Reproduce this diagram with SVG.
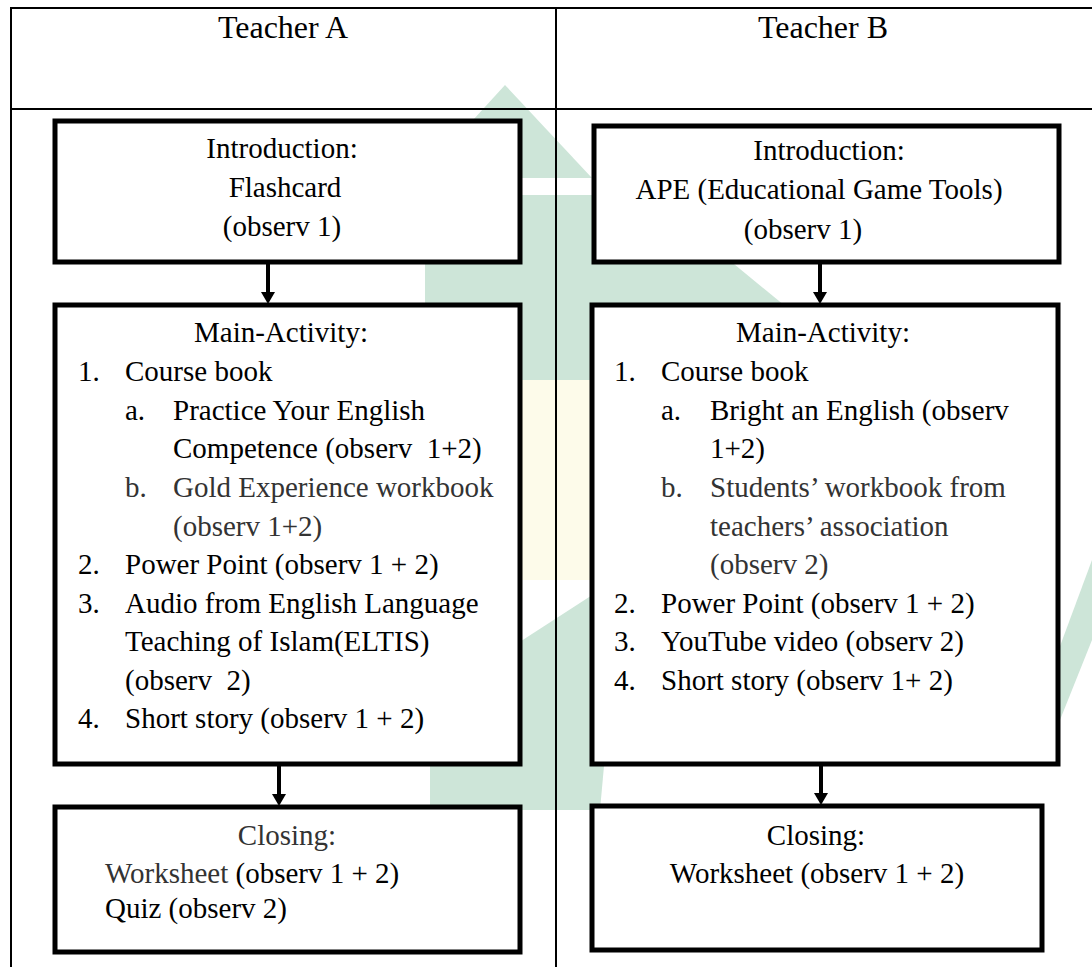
<svg xmlns="http://www.w3.org/2000/svg" width="1092" height="967" viewBox="0 0 1092 967">
<style>
.tl{stroke:#000;stroke-width:2;fill:none}
.box{fill:#fff;stroke:#000;stroke-width:5}
.con{stroke:#000;stroke-width:4;fill:none}
.wm{fill:#cde5d8}
.wc{fill:#fdfbea}
text{font-family:"Liberation Serif","Times New Roman",serif;font-size:29px;fill:#000}
.hd{font-size:32px}
.c{text-anchor:middle}
.g{fill:#333}
</style>
<rect width="1092" height="967" fill="#fff"/>
<g id="watermark">
<polygon class="wm" points="505,85 592,178 420,178"/>
<polygon class="wm" points="425,195 650,195 790,310 425,310"/>
<polygon class="wc" points="520,380 600,380 600,580 520,580"/>
<polygon class="wm" points="520,310 600,310 600,380 520,380"/>
<polygon class="wm" points="600,590 620,590 600,810 430,810 430,700"/>
<polygon class="wm" points="1040,700 1092,560 1092,640 1060,720"/>
</g>
<g id="table">
<line class="tl" x1="10" y1="8" x2="1092" y2="8"/>
<line class="tl" x1="10" y1="109" x2="1092" y2="109"/>
<line class="tl" x1="11" y1="7" x2="11" y2="967"/>
<line class="tl" x1="556" y1="7" x2="556" y2="967"/>
<text class="hd c" x="283" y="38">Teacher A</text>
<text class="hd c" x="823" y="38">Teacher B</text>
</g>
<g id="connectors">
<line class="con" x1="268" y1="264" x2="268" y2="298"/>
<path d="M261,292 L268,304 L275,292 Z"/>
<line class="con" x1="279" y1="765" x2="279" y2="800"/>
<path d="M272,794 L279,806 L286,794 Z"/>
<line class="con" x1="820" y1="264" x2="820" y2="298"/>
<path d="M813,292 L820,304 L827,292 Z"/>
<line class="con" x1="821" y1="764" x2="821" y2="799"/>
<path d="M814,793 L821,805 L828,793 Z"/>
</g>
<g id="intro-a">
<rect class="box" x="55" y="121" width="465" height="141"/>
<text class="c" x="282" y="158">Introduction:</text>
<text class="c" x="285" y="197">Flashcard</text>
<text class="c" x="282" y="236">(observ 1)</text>
</g>
<g id="main-a">
<rect class="box" x="55" y="305" width="465" height="459"/>
<text class="c" x="281" y="342">Main-Activity:</text>
<text x="78" y="381">1.</text><text x="125" y="381">Course book</text>
<text x="125" y="420">a.</text><text x="173" y="420">Practice Your English</text>
<text x="173" y="458">Competence (observ&#160; 1+2)</text>
<text class="g" x="125" y="497">b.</text><text class="g" x="173" y="497">Gold Experience workbook</text>
<text class="g" x="173" y="536">(observ 1+2)</text>
<text x="78" y="574">2.</text><text x="125" y="574">Power Point (observ 1 + 2)</text>
<text x="78" y="613">3.</text><text x="125" y="613">Audio from English Language</text>
<text x="125" y="651">Teaching of Islam(ELTIS)</text>
<text x="125" y="690">(observ&#160; 2)</text>
<text x="78" y="728">4.</text><text x="125" y="728">Short story (observ 1 + 2)</text>
</g>
<g id="closing-a">
<rect class="box" x="55" y="807" width="465" height="145"/>
<text class="c g" x="287" y="845">Closing:</text>
<text x="105" y="883"><tspan class="g">Worksheet</tspan> (observ 1 + 2)</text>
<text x="105" y="918">Quiz (observ 2)</text>
</g>
<g id="intro-b">
<rect class="box" x="594" y="126" width="465" height="136"/>
<text class="c" x="829" y="160">Introduction:</text>
<text class="c" x="819" y="199">APE (Educational Game Tools)</text>
<text class="c" x="803" y="239">(observ 1)</text>
</g>
<g id="main-b">
<rect class="box" x="592" y="305" width="466" height="459"/>
<text class="c" x="823" y="342">Main-Activity:</text>
<text x="614" y="381">1.</text><text x="661" y="381">Course book</text>
<text x="661" y="420">a.</text><text x="710" y="420">Bright an English (observ</text>
<text x="710" y="458">1+2)</text>
<text class="g" x="661" y="497">b.</text><text class="g" x="710" y="497">Students’ workbook from</text>
<text class="g" x="710" y="536">teachers’ association</text>
<text class="g" x="710" y="574">(observ 2)</text>
<text x="614" y="613">2.</text><text x="661" y="613">Power Point (observ 1 + 2)</text>
<text x="614" y="651">3.</text><text x="661" y="651">YouTube video (observ 2)</text>
<text x="614" y="690">4.</text><text x="661" y="690">Short story (observ 1+ 2)</text>
</g>
<g id="closing-b">
<rect class="box" x="592" y="806" width="450" height="144"/>
<text class="c" x="816" y="845">Closing:</text>
<text class="c" x="817" y="883">Worksheet (observ 1 + 2)</text>
</g>
</svg>
